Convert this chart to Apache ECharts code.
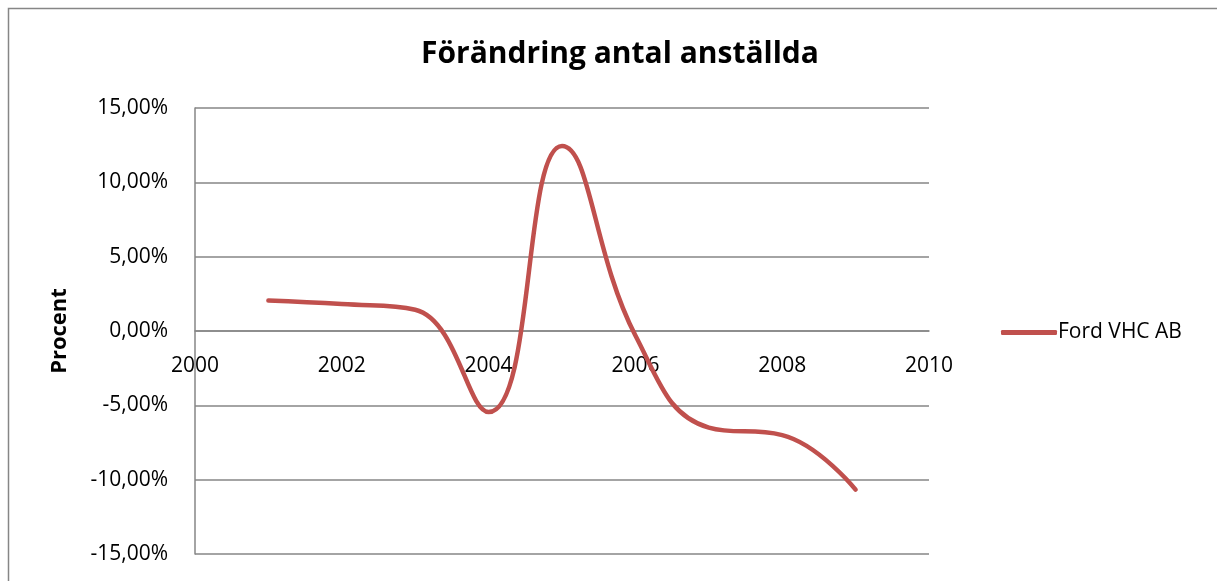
<!DOCTYPE html>
<html>
<head>
<meta charset="utf-8">
<script src="https://cdn.jsdelivr.net/npm/echarts@6/dist/echarts.min.js"></script>
<style>html,body{margin:0;padding:0;background:#fff;}#c{width:1217px;height:581px;}</style>
</head>
<body>
<div id="c"></div>
<script>
var years = [2001, 2002, 2003, 2004, 2005, 2006, 2007, 2008, 2009];
var values = [0.0205, 0.0181, 0.0143, -0.0545, 0.1244, -0.0030, -0.0650, -0.0700, -0.1067];
var seriesName = 'Ford VHC AB';
var titleText = 'Förändring antal anställda';
var yAxisName = 'Procent';

var FONT = '"Open Sans", Lato, sans-serif';
var chart = echarts.init(document.getElementById('c'));
chart.setOption({
  animation: false,
  backgroundColor: '#fff',
  graphic: [{
    type: 'rect', silent: true,
    shape: { x: 8.5, y: 8.5, width: 1240, height: 620 },
    style: { fill: 'none', stroke: '#868686', lineWidth: 1.5 }
  }],
  title: {
    text: titleText, left: 615, top: 34, textAlign: 'center',
    textStyle: { fontFamily: FONT, fontSize: 30, fontWeight: 'bold', color: '#000' }
  },
  legend: {
    left: 996, top: 317, itemWidth: 56, itemHeight: 5, itemGap: 4,
    data: [{ name: seriesName, icon: 'roundRect' }],
    itemStyle: { color: '#C0504D' },
    textStyle: { fontFamily: FONT, fontSize: 21, color: '#000', padding: [0, 0, 0, -4] }
  },
  grid: { left: 195, right: 288, top: 108, bottom: 27, outerBoundsMode: 'none' },
  xAxis: {
    type: 'value', min: 2000, max: 2010, interval: 2,
    offset: -223,
    axisLine: { onZero: false, lineStyle: { color: '#868686', width: 1.5 } },
    axisTick: { show: false },
    splitLine: { show: false },
    axisLabel: { fontFamily: FONT, fontSize: 21, color: '#000', margin: 25, showMinLabel: true, showMaxLabel: true,
      formatter: function (v) { return String(v); } }
  },
  yAxis: {
    type: 'value', min: -0.15, max: 0.15, interval: 0.05,
    name: yAxisName, nameLocation: 'middle', nameGap: 124, nameRotate: 90,
    nameTextStyle: { fontFamily: FONT, fontSize: 22, fontWeight: 'bold', color: '#000' },
    axisLine: { show: true, lineStyle: { color: '#868686', width: 1.5 } },
    axisTick: { show: false },
    splitLine: { show: true, lineStyle: { color: '#868686', width: 1.5 } },
    axisLabel: {
      fontFamily: FONT, fontSize: 21, color: '#000', margin: 27,
      formatter: function (v) { return (Math.round(v * 10000) / 100).toFixed(2).replace('.', ',') + '%'; }
    }
  },
  series: [{
    name: seriesName, type: 'line', smooth: 0.45, showSymbol: false, symbol: 'none',
    data: years.map(function (y, i) { return [y, values[i]]; }),
    lineStyle: { color: '#C0504D', width: 4.5, cap: 'round', join: 'round' },
    itemStyle: { color: '#C0504D' }
  }]
});
</script>
</body>
</html>
